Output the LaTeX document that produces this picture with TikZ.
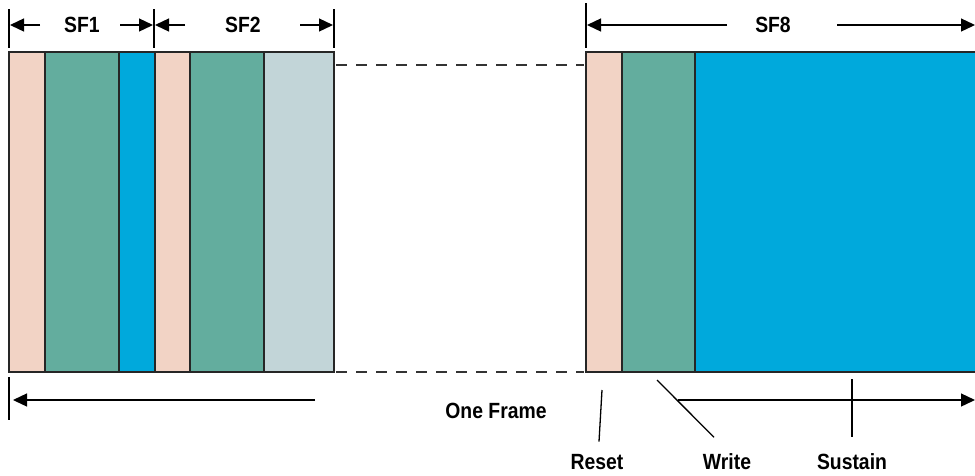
\documentclass[tikz,border=0pt]{standalone}
\usepackage{fontspec}
\setmainfont{Liberation Sans}
\newfontfamily\lblfont[FakeStretch=0.88]{Liberation Sans}
\usetikzlibrary{arrows.meta}

\definecolor{resetcol}{HTML}{F2D3C5}
\definecolor{writecol}{HTML}{63AD9E}
\definecolor{sustcol}{HTML}{00A9DC}
\definecolor{idlecol}{HTML}{C2D5D8}

\begin{document}
\begin{tikzpicture}[x=1pt,y=-1pt,line width=1.3pt,
  seg/.style={draw=black!85,line width=1.5pt},
  lbl/.style={font=\lblfont\bfseries\fontsize{22}{22}\selectfont,inner sep=0pt},
  dim/.style={-{Triangle[length=14pt,width=13pt]}},
  tick/.style={line width=1.3pt}]
\useasboundingbox (0,0) rectangle (975,475);

% subfields 1 and 2
\filldraw[seg,fill=resetcol] (9,52) rectangle (45,372);
\filldraw[seg,fill=writecol] (45,52) rectangle (119,372);
\filldraw[seg,fill=sustcol]  (119,52) rectangle (155,372);
\filldraw[seg,fill=resetcol] (155,52) rectangle (190,372);
\filldraw[seg,fill=writecol] (190,52) rectangle (264,372);
\filldraw[seg,fill=idlecol]  (264,52) rectangle (334,372);

% subfield 8
\filldraw[seg,fill=resetcol] (586,52) rectangle (622,372);
\filldraw[seg,fill=writecol] (622,52) rectangle (695,372);
\filldraw[seg,fill=sustcol]  (695,52) rectangle (990,372);

% gap between the frames
\draw[black!80,dash pattern=on 11pt off 9pt] (336,65) -- (584,65);
\draw[black!80,dash pattern=on 11pt off 9pt] (336,372) -- (584,372);

% limits of the subfields
\draw[tick] (9,9) -- (9,48);
\draw[tick] (154,9) -- (154,48);
\draw[tick] (334,9) -- (334,48);
\draw[tick] (586,3) -- (586,48);

\node[lbl] (sf1) at (82,25) {SF1};
\node[lbl] (sf2) at (243,25) {SF2};
\node[lbl] (sf8) at (773,25) {SF8};

\draw[dim] (40,25) -- (10,25);
\draw[dim] (120,25) -- (153,25);
\draw[dim] (185,25) -- (155,25);
\draw[dim] (300,25) -- (333,25);
\draw[dim] (727,25) -- (587,25);
\draw[dim] (837,25) -- (975,25);

% one frame
\draw[tick] (9,377) -- (9,420);
\draw[dim] (315,400) -- (13,400);
\draw[dim] (678,400) -- (975,400);
\node[lbl] (frame) at (496,411) {One Frame};

% phases
\node[lbl] (reset) at (597,462) {Reset};
\node[lbl] (write) at (727,462) {Write};
\node[lbl] (sustain) at (852,462) {Sustain};

\coordinate (r0) at (602,390);
\coordinate (w0) at (657,380);
\coordinate (s0) at (852,379);
\draw[tick] (r0) -- ([shift={(2pt,12pt)}]reset.north);
\draw[tick] (w0) -- ([shift={(-13pt,16pt)}]write.north);
\draw[tick] (s0) -- ([yshift=16pt]sustain.north);

\end{tikzpicture}
\end{document}
